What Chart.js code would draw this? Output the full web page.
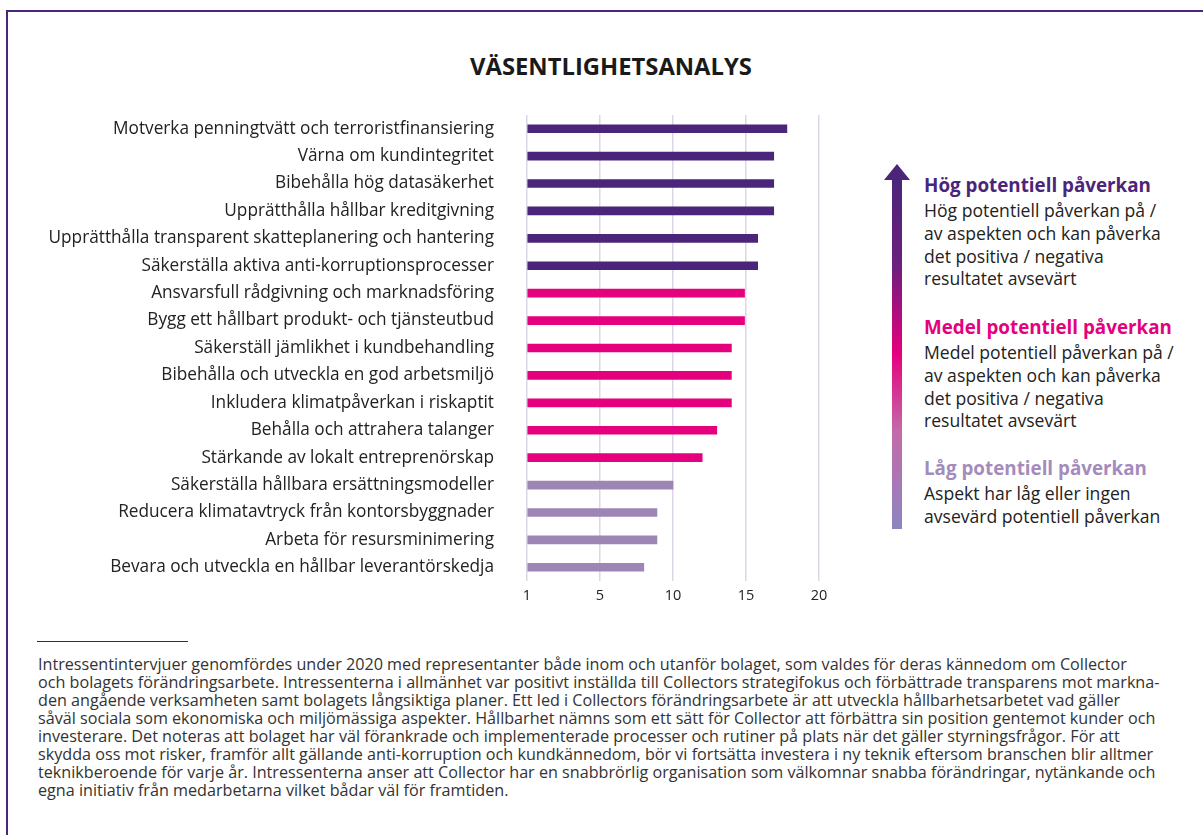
<!DOCTYPE html>
<html lang="sv">
<head>
<meta charset="utf-8">
<script src="https://cdn.jsdelivr.net/npm/chart.js@4/dist/chart.umd.min.js"></script>
<style>
  html, body { margin: 0; padding: 0; background: #fff; }
  body { width: 1203px; height: 835px; position: relative; overflow: hidden; font-family: "Open Sans", sans-serif; color: #222; }
  .frame { position: absolute; left: 6px; top: 10px; right: -5px; bottom: -5px; border-top: 2px solid #4a2579; border-left: 2px solid #4a2579; }
  .title { position: absolute; left: 311px; width: 600px; top: 66px; transform: translateY(-50%); text-align: center; font-weight: bold; font-size: 20px; color: #1a1a1a; white-space: nowrap; line-height: 1.2; }
  .chartbox { position: absolute; left: 0; top: 100px; width: 860px; height: 520px; }
  .chartbox canvas { display: block; }
  .arrow-shaft { position: absolute; left: 892px; top: 178px; width: 10px; height: 351px;
    background: linear-gradient(to bottom, #4a2579 0%, #6b1f7f 25%, #e5007d 50%, #c46aa8 72%, #8c85c1 100%); }
  .arrow-head { position: absolute; left: 884px; top: 164px; width: 0; height: 0;
    border-left: 13px solid transparent; border-right: 13px solid transparent; border-bottom: 16px solid #4a2579; }
  .leg { position: absolute; left: 924px; white-space: nowrap; }
  .leg h3 { margin: 0; font-size: 18.5px; font-weight: bold; line-height: 22px; }
  .leg p { margin: 0; font-size: 16px; line-height: 22.8px; color: #222; }
  .sep { position: absolute; left: 37px; top: 641px; width: 151px; height: 1px; background: #333; }
  .foot { position: absolute; left: 38px; top: 655px; font-size: 14.6px; line-height: 18px; color: #333; white-space: nowrap; }
</style>
</head>
<body>
<div class="frame"></div>
<div class="title" id="title">VÄSENTLIGHETSANALYS</div>
<div class="chartbox"><canvas id="c" width="860" height="520"></canvas></div>

<div class="arrow-shaft"></div>
<div class="arrow-head"></div>

<div class="leg" style="top:174px">
  <h3 style="color:#4a2579">Hög potentiell påverkan</h3>
  <p style="margin-top:3px">Hög potentiell påverkan på /<br>av aspekten och kan påverka<br>det positiva / negativa<br>resultatet avsevärt</p>
</div>
<div class="leg" style="top:316px">
  <h3 style="color:#e5007d">Medel potentiell påverkan</h3>
  <p style="margin-top:3px">Medel potentiell påverkan på /<br>av aspekten och kan påverka<br>det positiva / negativa<br>resultatet avsevärt</p>
</div>
<div class="leg" style="top:457px">
  <h3 style="color:#a48bbd">Låg potentiell påverkan</h3>
  <p style="margin-top:3px">Aspekt har låg eller ingen<br>avsevärd potentiell påverkan</p>
</div>

<div class="sep"></div>
<div class="foot" id="foot">Intressentintervjuer genomfördes under 2020 med representanter både inom och utanför bolaget, som valdes för deras kännedom om Collector<br>och bolagets förändringsarbete. Intressenterna i allmänhet var positivt inställda till Collectors strategifokus och förbättrade transparens mot markna-<br>den angående verksamheten samt bolagets långsiktiga planer. Ett led i Collectors förändringsarbete är att utveckla hållbarhetsarbetet vad gäller<br>såväl sociala som ekonomiska och miljömässiga aspekter. Hållbarhet nämns som ett sätt för Collector att förbättra sin position gentemot kunder och<br>investerare. Det noteras att bolaget har väl förankrade och implementerade processer och rutiner på plats när det gäller styrningsfrågor. För att<br>skydda oss mot risker, framför allt gällande anti-korruption och kundkännedom, bör vi fortsätta investera i ny teknik eftersom branschen blir alltmer<br>teknikberoende för varje år. Intressenterna anser att Collector har en snabbrörlig organisation som välkomnar snabba förändringar, nytänkande och<br>egna initiativ från medarbetarna vilket bådar väl för framtiden.</div>

<script>
const categories = [
  "Motverka penningtvätt och terroristfinansiering",
  "Värna om kundintegritet",
  "Bibehålla hög datasäkerhet",
  "Upprätthålla hållbar kreditgivning",
  "Upprätthålla transparent skatteplanering och hantering",
  "Säkerställa aktiva anti-korruptionsprocesser",
  "Ansvarsfull rådgivning och marknadsföring",
  "Bygg ett hållbart produkt- och tjänsteutbud",
  "Säkerställ jämlikhet i kundbehandling",
  "Bibehålla och utveckla en god arbetsmiljö",
  "Inkludera klimatpåverkan i riskaptit",
  "Behålla och attrahera talanger",
  "Stärkande av lokalt entreprenörskap",
  "Säkerställa hållbara ersättningsmodeller",
  "Reducera klimatavtryck från kontorsbyggnader",
  "Arbeta för resursminimering",
  "Bevara och utveckla en hållbar leverantörskedja"
];
const values = [17.8, 16.9, 16.9, 16.9, 15.8, 15.8, 14.9, 14.9, 14.0, 14.0, 14.0, 13.0, 12.0, 10.0, 8.9, 8.9, 8.0];
const impactLevel = ["hög","hög","hög","hög","hög","hög","medel","medel","medel","medel","medel","medel","medel","låg","låg","låg","låg"];
const tickValues = [0, 5, 10, 15, 20];
const tickLabels = ["1", "5", "10", "15", "20"];

const levelColors = { "hög": "#4a2579", "medel": "#e5007d", "låg": "#9c86b4" };

const FAMILY = '"Open Sans"';
const mctx = document.createElement("canvas").getContext("2d");
function fitSize(text, weight, target) {
  mctx.font = weight + " 100px " + FAMILY;
  return 100 * target / mctx.measureText(text).width;
}
const labelSize = fitSize(categories[0], "normal", 381);

// size HTML text to the reference widths
document.getElementById("title").style.fontSize = fitSize("VÄSENTLIGHETSANALYS", "bold", 282) + "px";
document.getElementById("foot").style.fontSize = fitSize("Intressentintervjuer genomfördes under 2020 med representanter både inom och utanför bolaget, som valdes för deras kännedom om Collector", "normal", 1090) + "px";
const hSize = fitSize("Medel potentiell påverkan", "bold", 248);
const pSize = fitSize("Medel potentiell påverkan på /", "normal", 250);
document.querySelectorAll(".leg h3").forEach(e => e.style.fontSize = hSize + "px");
document.querySelectorAll(".leg p").forEach(e => e.style.fontSize = pSize + "px");

new Chart(document.getElementById("c"), {
  type: "bar",
  data: {
    labels: categories,
    datasets: [{
      data: values,
      backgroundColor: impactLevel.map(l => levelColors[l]),
      barThickness: 8,
      borderWidth: 0
    }]
  },
  options: {
    indexAxis: "y",
    responsive: false,
    animation: false,
    layout: { padding: { top: 15, right: 41, bottom: 0, left: 0 } },
    plugins: { legend: { display: false }, tooltip: { enabled: false }, title: { display: false } },
    scales: {
      x: {
        min: 0, max: 20,
        afterBuildTicks: (scale) => { scale.ticks = tickValues.map(v => ({ value: v })); },
        afterFit: (scale) => { scale.height = 39; },
        ticks: {
          callback: (v) => tickLabels[tickValues.indexOf(v)],
          color: "#222", font: { family: "Open Sans", size: 14.5 }, padding: 6, maxRotation: 0
        },
        grid: { color: "#ddd6e8", lineWidth: 1.5, drawTicks: false },
        border: { display: false }
      },
      y: {
        afterFit: (scale) => { scale.width = 527; scale.paddingTop = 0; scale.paddingBottom = 0; },
        ticks: { color: "#222", font: { family: "Open Sans", size: labelSize }, padding: 33, autoSkip: false },
        grid: { display: false, drawTicks: false },
        border: { display: false }
      }
    }
  }
});
</script>
</body>
</html>
